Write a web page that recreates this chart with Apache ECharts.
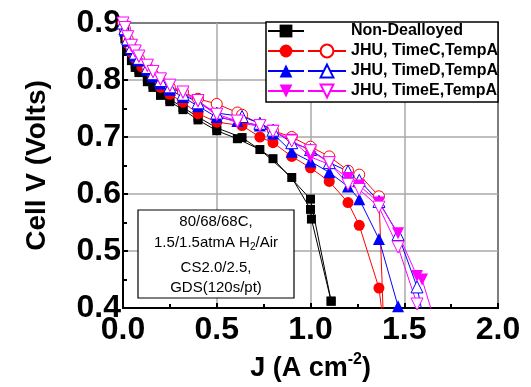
<!DOCTYPE html>
<html><head><meta charset="utf-8">
<script src="https://cdn.jsdelivr.net/npm/echarts@6/dist/echarts.min.js"></script>
<style>html,body{margin:0;padding:0;background:#fff}#c{width:531px;height:387px}</style>
</head><body><div id="c"></div>
<script>
// ---- data ----
const jBlackA = [0, 0.01, 0.025, 0.045, 0.065, 0.085, 0.13, 0.16, 0.2, 0.25, 0.32, 0.4, 0.5, 0.61, 0.73, 0.9, 1.0, 1.005, 1.11];
const vBlackA = [0.9, 0.872, 0.85, 0.834, 0.822, 0.813, 0.797, 0.787, 0.773, 0.762, 0.748, 0.73, 0.711, 0.697, 0.678, 0.629, 0.573, 0.556, 0.412];
const jBlackB = [0, 0.01, 0.025, 0.045, 0.065, 0.085, 0.13, 0.16, 0.2, 0.25, 0.32, 0.4, 0.5, 0.635, 0.8, 1.0, 1.11];
const vBlackB = [0.9, 0.879, 0.858, 0.841, 0.828, 0.818, 0.802, 0.792, 0.778, 0.766, 0.752, 0.735, 0.716, 0.699, 0.662, 0.591, 0.412];
const jRedFilled = [0, 0.01, 0.025, 0.045, 0.065, 0.1, 0.155, 0.2, 0.25, 0.32, 0.4, 0.5, 0.635, 0.73, 0.8, 0.9, 1.0, 1.1, 1.2, 1.26, 1.365, 1.39];
const vRedFilled = [0.9, 0.884, 0.864, 0.848, 0.838, 0.823, 0.81, 0.787, 0.775, 0.761, 0.741, 0.726, 0.72, 0.70, 0.69, 0.666, 0.646, 0.622, 0.585, 0.545, 0.435, 0.37];
const jRedHollow = [0, 0.01, 0.025, 0.045, 0.065, 0.085, 0.13, 0.16, 0.2, 0.25, 0.32, 0.4, 0.5, 0.61, 0.635, 0.8, 0.9, 1.0, 1.1, 1.2, 1.26, 1.365, 1.39];
const vRedHollow = [0.9, 0.89, 0.872, 0.857, 0.846, 0.837, 0.822, 0.81, 0.797, 0.787, 0.779, 0.767, 0.758, 0.743, 0.739, 0.711, 0.70, 0.683, 0.666, 0.641, 0.634, 0.596, 0.37];
const jBlueFilled = [0, 0.01, 0.025, 0.045, 0.065, 0.085, 0.13, 0.16, 0.2, 0.25, 0.32, 0.4, 0.5, 0.61, 0.73, 0.8, 0.9, 1.0, 1.1, 1.2, 1.26, 1.365, 1.467];
const vBlueFilled = [0.9, 0.887, 0.869, 0.854, 0.843, 0.834, 0.818, 0.806, 0.794, 0.783, 0.77, 0.754, 0.735, 0.728, 0.72, 0.706, 0.674, 0.657, 0.638, 0.613, 0.591, 0.521, 0.403];
const jBlueHollow = [0, 0.01, 0.025, 0.045, 0.065, 0.085, 0.13, 0.16, 0.2, 0.25, 0.32, 0.4, 0.5, 0.635, 0.73, 0.8, 0.9, 1.0, 1.1, 1.2, 1.26, 1.365, 1.467, 1.568, 1.61];
const vBlueHollow = [0.9, 0.89, 0.872, 0.857, 0.847, 0.838, 0.822, 0.811, 0.799, 0.788, 0.775, 0.76, 0.742, 0.736, 0.724, 0.712, 0.69, 0.678, 0.655, 0.64, 0.624, 0.587, 0.529, 0.437, 0.37];
const jMagFilled = [0, 0.01, 0.025, 0.045, 0.065, 0.085, 0.13, 0.16, 0.2, 0.25, 0.32, 0.4, 0.5, 0.61, 0.73, 0.8, 0.9, 1.0, 1.1, 1.2, 1.26, 1.365, 1.467, 1.568, 1.595, 1.66];
const vMagFilled = [0.9, 0.891, 0.874, 0.859, 0.849, 0.84, 0.824, 0.813, 0.8, 0.789, 0.777, 0.762, 0.738, 0.725, 0.719, 0.711, 0.695, 0.665, 0.652, 0.628, 0.615, 0.585, 0.531, 0.456, 0.45, 0.38];
const jMagHollow = [0, 0.01, 0.025, 0.045, 0.065, 0.085, 0.13, 0.16, 0.2, 0.25, 0.32, 0.4, 0.5, 0.61, 0.73, 0.8, 0.9, 1.0, 1.1, 1.2, 1.26, 1.365, 1.467, 1.568, 1.6];
const vMagHollow = [0.9, 0.892, 0.876, 0.861, 0.851, 0.842, 0.826, 0.815, 0.802, 0.791, 0.779, 0.764, 0.74, 0.728, 0.72, 0.71, 0.693, 0.676, 0.655, 0.617, 0.608, 0.577, 0.507, 0.407, 0.37];

const nameND = 'Non-Dealloyed';
const nameC = 'JHU, TimeC,TempA';
const nameD = 'JHU, TimeD,TempA';
const nameE = 'JHU, TimeE,TempA';
const xTickLabels = ['0.0', '0.5', '1.0', '1.5', '2.0'];
const yTickLabels = ['0.4', '0.5', '0.6', '0.7', '0.8', '0.9'];
const noteLines = ['80/68/68C,', '1.5/1.5atmA H{sub|2}/Air', 'CS2.0/2.5,', 'GDS(120s/pt)'];

// ---- chart ----
const zip = (a, b) => a.map((x, i) => [x, b[i]]);
const FONT = 'Liberation Sans, Arial, sans-serif';
function ser(name, j, v, color, symbol, size, hollow, rot) {
  return {
    name, type: 'line', data: zip(j, v), symbol, symbolSize: size, symbolRotate: rot || 0,
    lineStyle: { color, width: 1 },
    itemStyle: hollow ? { color: '#fff', borderColor: color, borderWidth: 1 } : { color, borderColor: color, borderWidth: 0 },
    emphasis: { disabled: true }, animation: false
  };
}
const series = [
  ser(nameND, jBlackA, vBlackA, '#000', 'rect', 9, false),
  ser(nameND, jBlackB, vBlackB, '#000', 'rect', 9, false),
  ser(nameC + ' ', jRedFilled, vRedFilled, '#ff0000', 'circle', 11, false),
  ser(nameC, jRedHollow, vRedHollow, '#ff0000', 'circle', 11, true),
  ser(nameD + ' ', jBlueFilled, vBlueFilled, '#0000ff', 'triangle', 12, false),
  ser(nameD, jBlueHollow, vBlueHollow, '#0000ff', 'triangle', 12, true),
  ser(nameE + ' ', jMagFilled, vMagFilled, '#ff00ff', 'triangle', 12, false, 180),
  ser(nameE, jMagHollow, vMagHollow, '#ff00ff', 'triangle', 12, true, 180)
];

const chart = echarts.init(document.getElementById('c'), null, { renderer: 'canvas' });
const txt = { fontFamily: FONT, fontWeight: 'bold', fontSize: 16, color: '#000', lineHeight: 20 };
chart.setOption({
  animation: false,
  textStyle: { fontFamily: FONT },
  grid: { left: 123, right: 33, top: 23, bottom: 78, show: true, borderColor: '#000', borderWidth: 2, backgroundColor: 'transparent' },
  xAxis: {
    type: 'value', min: 0, max: 2, interval: 0.5,
    axisLine: { show: true, onZero: false, lineStyle: { color: '#000', width: 2 } },
    axisTick: { show: true, inside: true, length: 5, lineStyle: { color: '#000', width: 2 } },
    minorTick: { show: true, splitNumber: 2, length: 4, lineStyle: { color: '#000', width: 2 } },
    splitLine: { show: true, lineStyle: { color: '#a8a8a8', width: 1.5 } },
    axisLabel: { margin: 6, fontFamily: FONT, fontWeight: 'bold', fontSize: 32, color: '#000',
      formatter: v => xTickLabels[Math.round(v / 0.5)] },
    name: '{a|J (A cm}{s|-2}{a|)}', nameLocation: 'middle', nameGap: 44,
    nameTextStyle: { rich: {
      a: { fontFamily: FONT, fontWeight: 'bold', fontSize: 27, color: '#000', lineHeight: 30, verticalAlign: 'bottom' },
      s: { fontFamily: FONT, fontWeight: 'bold', fontSize: 16, color: '#000', lineHeight: 30, verticalAlign: 'top' }
    } }
  },
  yAxis: {
    type: 'value', min: 0.4, max: 0.9, interval: 0.1,
    axisLine: { show: true, onZero: false, lineStyle: { color: '#000', width: 2 } },
    axisTick: { show: true, inside: true, length: 5, lineStyle: { color: '#000', width: 2 } },
    minorTick: { show: true, splitNumber: 2, length: 4, lineStyle: { color: '#000', width: 2 } },
    splitLine: { show: true, lineStyle: { color: '#a8a8a8', width: 1.5 } },
    axisLabel: { margin: 2, fontFamily: FONT, fontWeight: 'bold', fontSize: 32, color: '#000',
      formatter: v => yTickLabels[Math.round((v - 0.4) / 0.1)] },
    name: 'Cell V (Volts)', nameLocation: 'middle', nameGap: 72,
    nameTextStyle: { fontFamily: FONT, fontWeight: 'bold', fontSize: 28, color: '#000' }
  },
  legend: [
    {
      orient: 'vertical', left: 267, top: 21, padding: 0, itemGap: 0, itemWidth: 36, itemHeight: 16,
      selectedMode: false, z: 20, textStyle: txt, formatter: () => ' ',
      data: [nameND, nameC + ' ', nameD + ' ', nameE + ' ']
    },
    {
      orient: 'vertical', left: 307, top: 21, padding: 0, itemGap: 0, itemWidth: 38, itemHeight: 16,
      selectedMode: false, z: 20, textStyle: txt,
      data: [
        { name: nameND, icon: 'rect', itemStyle: { color: 'rgba(0,0,0,0)', borderWidth: 0 }, lineStyle: { color: 'rgba(0,0,0,0)' } },
        nameC, nameD, nameE
      ]
    }
  ],
  graphic: [
    { type: 'rect', z: 10, shape: { x: 266, y: 22, width: 232, height: 80 },
      style: { fill: '#fff', stroke: '#000', lineWidth: 1.5 } },
    { type: 'rect', z: 10, shape: { x: 138, y: 210, width: 156, height: 88 },
      style: { fill: '#fff', stroke: '#000', lineWidth: 1.2 } },
    { type: 'text', z: 11, x: 216, y: 222, style: { text: noteLines[0], font: '15px ' + FONT, fill: '#000', align: 'center', verticalAlign: 'middle' } },
    { type: 'text', z: 11, x: 216, y: 243, style: { text: noteLines[1], fill: '#000', align: 'center', verticalAlign: 'middle',
      rich: { sub: { fontSize: 10, fontFamily: FONT, fill: '#000', padding: [9, 0, 0, 0] } }, font: '15px ' + FONT } },
    { type: 'text', z: 11, x: 216, y: 268, style: { text: noteLines[2], font: '15px ' + FONT, fill: '#000', align: 'center', verticalAlign: 'middle' } },
    { type: 'text', z: 11, x: 216, y: 288, style: { text: noteLines[3], font: '15px ' + FONT, fill: '#000', align: 'center', verticalAlign: 'middle' } }
  ],
  series
});
</script></body></html>
